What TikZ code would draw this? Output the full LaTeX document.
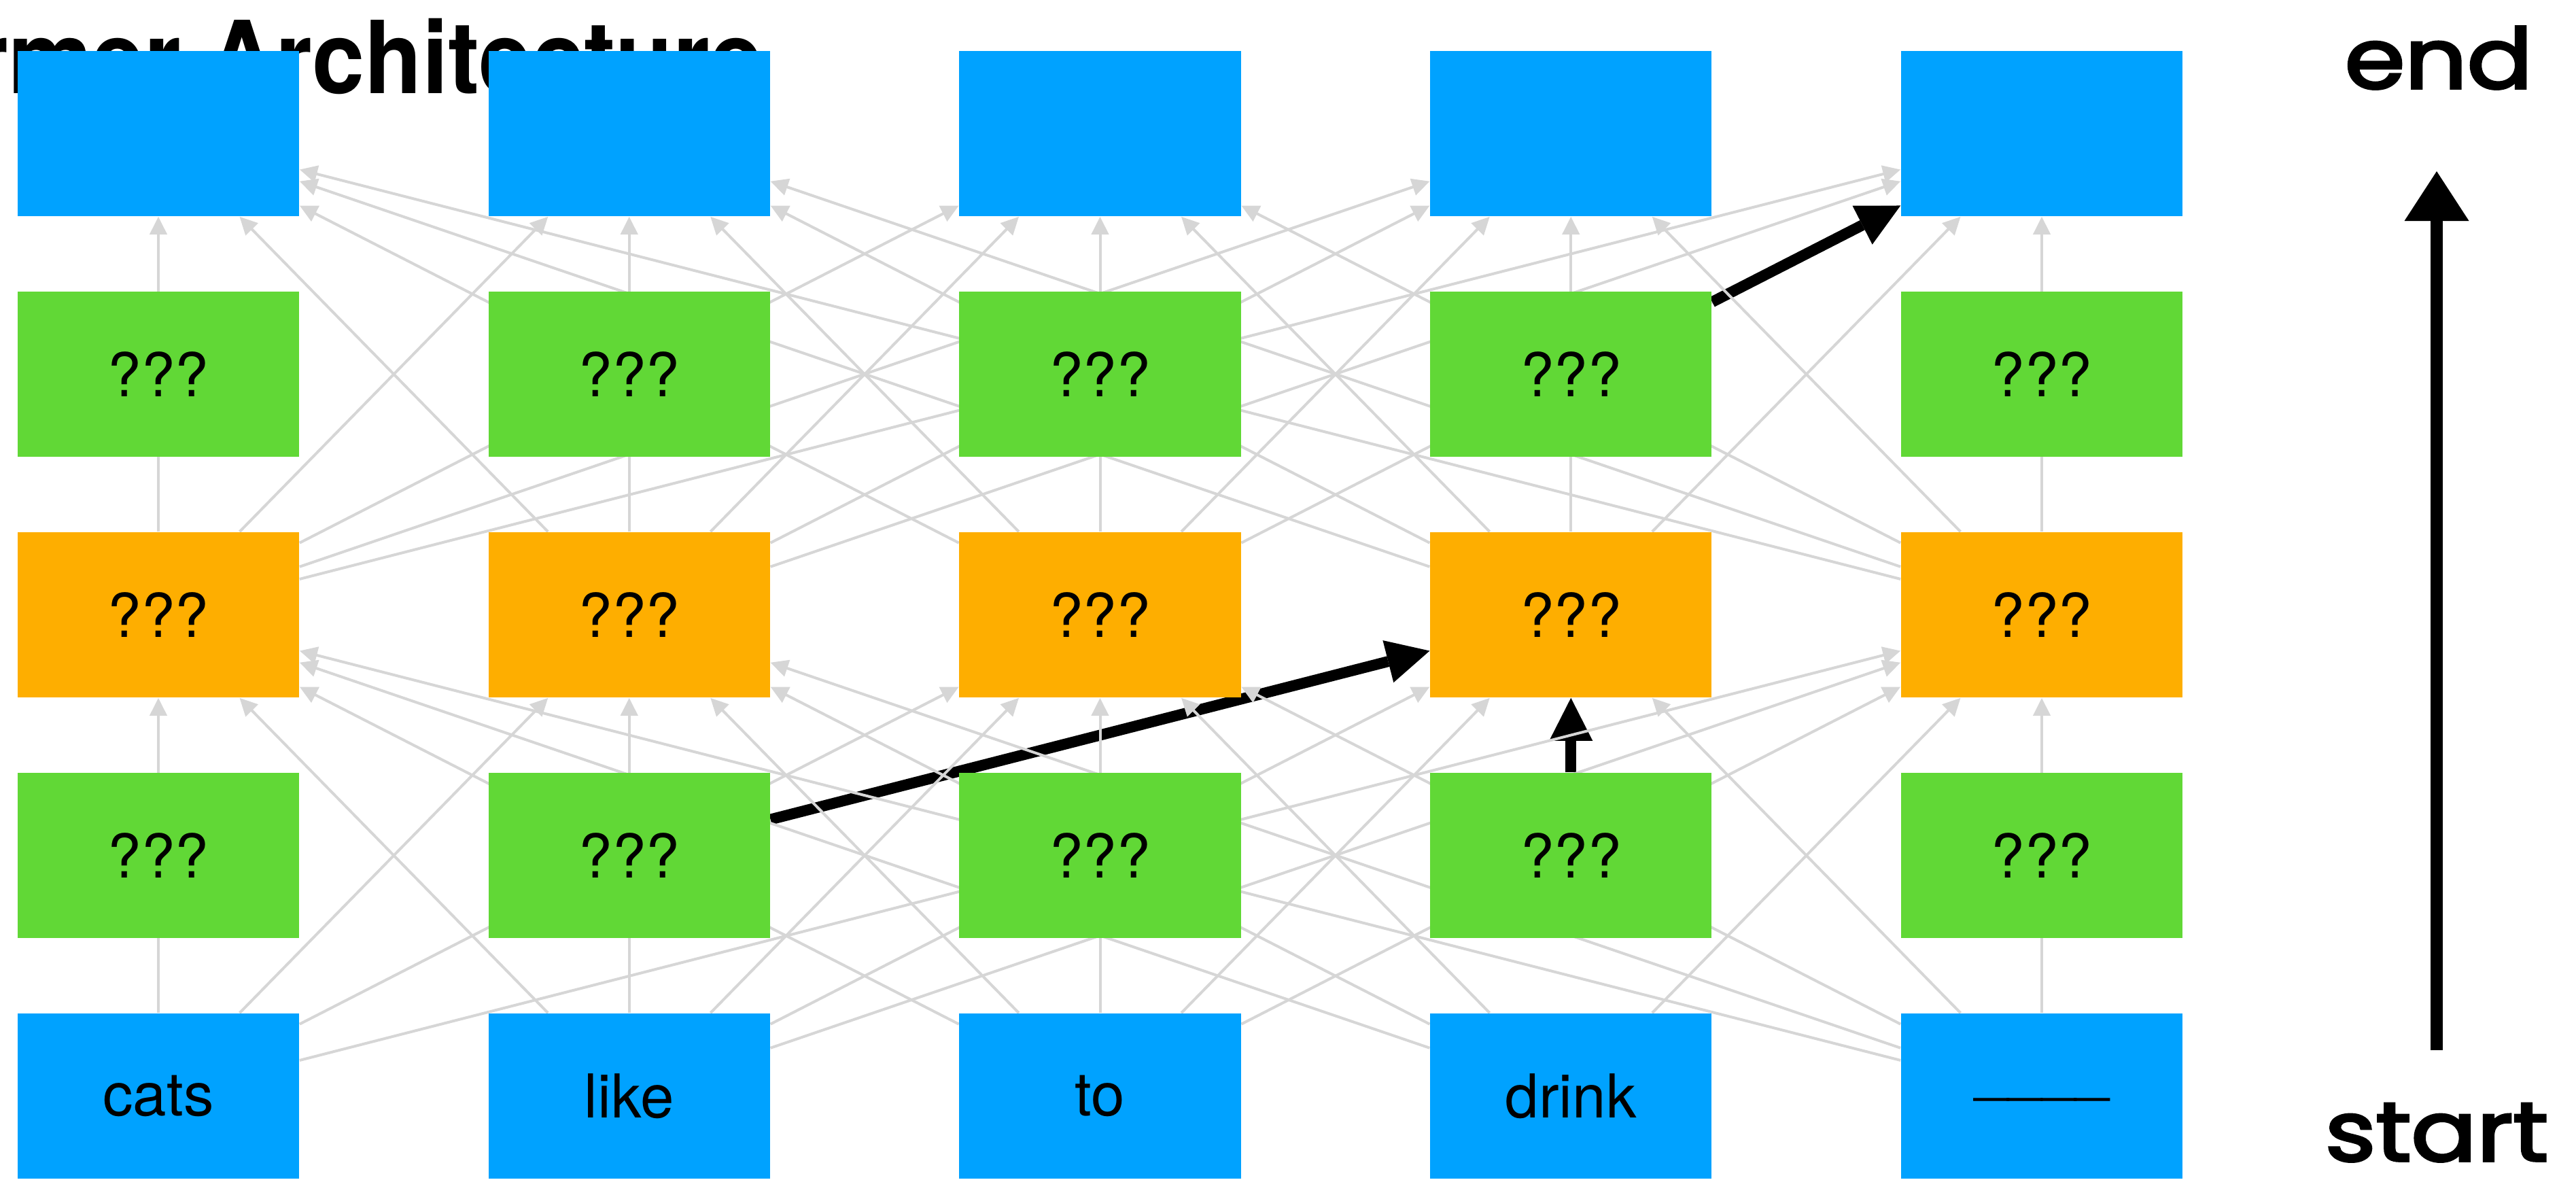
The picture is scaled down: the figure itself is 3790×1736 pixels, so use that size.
\documentclass[tikz,border=0pt]{standalone}
\usepackage{fontspec}
\setmainfont{TeX Gyre Heros}
\newfontfamily\handfont{Poppins}[FakeBold=3]
\usetikzlibrary{arrows.meta}

\definecolor{kblue}{RGB}{0,162,255}
\definecolor{kgreen}{RGB}{97,216,54}
\definecolor{korange}{RGB}{254,174,0}
\definecolor{klink}{RGB}{214,214,214}

\pgfdeclarelayer{titlelayer}
\pgfdeclarelayer{underlinks}
\pgfdeclarelayer{wires}
\pgfdeclarelayer{links}
\pgfsetlayers{titlelayer,underlinks,wires,links,main}

\tikzset{
  cell/.style={rectangle, minimum width=4.14cm, minimum height=2.43cm,
    inner sep=0pt, font=\fontsize{25.3pt}{30pt}\selectfont},
  tokencell/.style={cell, fill=kblue},
  mixcell/.style={cell, fill=kgreen},
  ffcell/.style={cell, fill=korange},
  link/.style={draw=klink, line width=0.04cm,
    -{Triangle[length=0.26cm,width=0.25cm]}},
  focus/.style={draw=black, line width=0.16cm,
    -{Triangle[length=0.63cm,width=0.64cm,line width=0pt]}},
  headline/.style={inner sep=0pt, anchor=base east, xscale=0.937,
    font=\fontsize{42.1pt}{50pt}\selectfont\bfseries},
  hand/.style={inner sep=0pt, anchor=base, xscale=1.16, text depth=0pt,
    font=\handfont\fontsize{35pt}{40pt}\selectfont},
  flow/.style={draw=black, line width=0.18cm,
    -{Triangle[length=0.73cm,width=0.95cm,line width=0pt]}}
}

\begin{document}
\begin{tikzpicture}[x=0.01cm, y=-0.01cm]
\useasboundingbox (0,0) rectangle (3790,1736);

% five columns of cells, five layers
\foreach \i in {0,...,4} {
  \pgfmathsetmacro{\cx}{233+692.75*\i}
  \node[tokencell] (t\i)  at (\cx,196.5)  {};
  \node[mixcell]   (ga\i) at (\cx,550.5)  {???};
  \node[ffcell]    (o\i)  at (\cx,904.5)  {???};
  \node[mixcell]   (gb\i) at (\cx,1258.5) {???};
}
\foreach \i/\w in {0/cats,1/like,2/to,3/drink,4/{\_\_\_\_}} {
  \pgfmathsetmacro{\cx}{233+692.75*\i}
  \node[tokencell] (b\i) at (\cx,1612.5) {\w};
}

% title, partly hidden behind the top row
\begin{pgfonlayer}{titlelayer}
  \begin{scope}
    \clip (0,0) rectangle (3790,1736);
    \node[headline] (title) at (1123,137) {Transformer Architecture};
  \end{scope}
\end{pgfonlayer}

% highlighted paths
\begin{pgfonlayer}{wires}
  \draw[focus] (gb1) -- (o3);
  \draw[focus] (gb3) -- (o3);
  \draw[focus] (ga3) -- (t4);
\end{pgfonlayer}

% link that runs underneath a highlighted path
\begin{pgfonlayer}{underlinks}
  \draw[link] (o2) -- (t4);
\end{pgfonlayer}

% all-to-all links: tokens -> feed-forward row -> outputs
\begin{pgfonlayer}{links}
  \foreach \i in {0,...,4} {
    \foreach \j in {0,...,4} {
      \ifnum\numexpr10*\i+\j\relax=3 \else
        \ifnum\numexpr10*\i+\j\relax=33 \else
          \draw[link] (b\i) -- (o\j);
        \fi
      \fi
      \ifnum\numexpr10*\i+\j\relax=24 \else
        \draw[link] (o\i) -- (t\j);
      \fi
    }
  }
\end{pgfonlayer}

% direction marker
\node[hand] (endlabel)   at (3588,130)  {end};
\node[hand] (startlabel) at (3585,1708) {start};
\coordinate (flowtail) at (3585,1545);
\coordinate (flowhead) at (3585,252);
\draw[flow] (flowtail) -- (flowhead);
\end{tikzpicture}
\end{document}
